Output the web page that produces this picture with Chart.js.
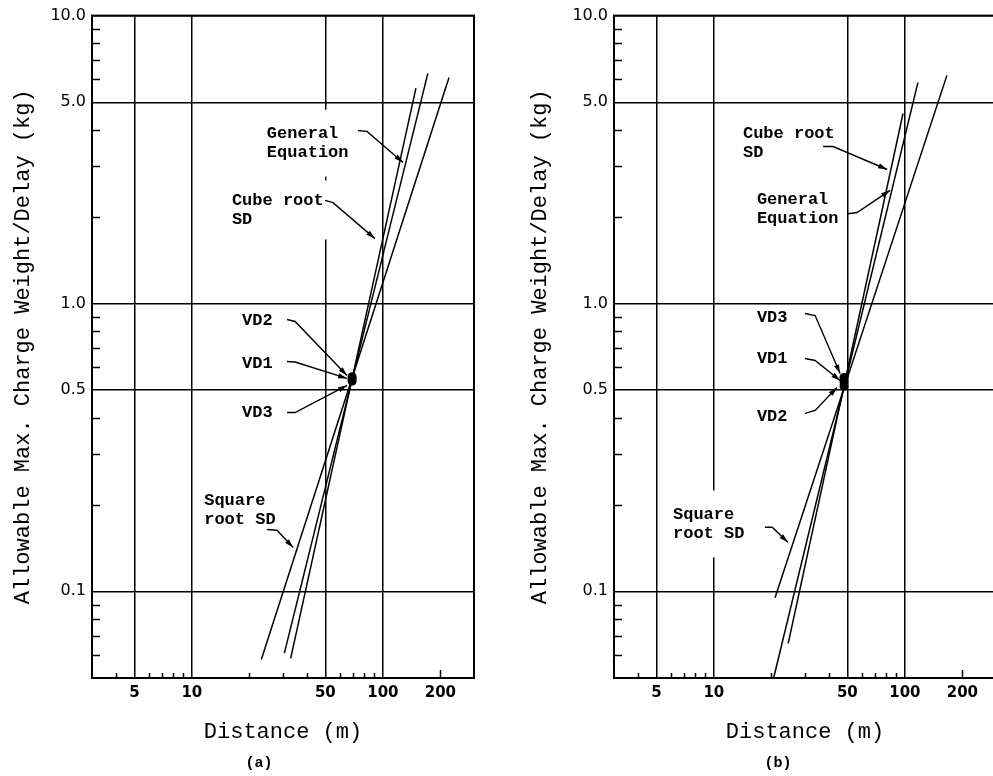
<!DOCTYPE html>
<html><head><meta charset="utf-8">
<script src="https://cdn.jsdelivr.net/npm/chart.js@4.4.1/dist/chart.umd.min.js"></script>
<style>
html,body{margin:0;padding:0;background:#fff;overflow:hidden;width:993px;height:776px;}
#wa{position:absolute;left:0;top:0;width:497px;height:776px;}
#wb{position:absolute;left:522px;top:0;width:497px;height:776px;}
</style></head><body>
<div id="wa"><canvas id="ca" width="497" height="776"></canvas></div>
<div id="wb"><canvas id="cb" width="497" height="776"></canvas></div>
<script>
// ---- axis ticks ----
const xTickValues = [5, 10, 50, 100, 200];
const xTickLabels = ['5', '10', '50', '100', '200'];
const yTickValues = [0.1, 0.5, 1, 5, 10];
const yTickLabels = ['0.1', '0.5', '1.0', '5.0', '10.0'];
const xMinorTicks = [4, 6, 7, 8, 9, 20, 30, 40, 60, 70, 80, 90];
const yMinorTicks = [0.06, 0.07, 0.08, 0.09, 0.2, 0.3, 0.4, 0.6, 0.7, 0.8, 0.9, 2, 3, 4, 6, 7, 8, 9];

// ---- panel (a) data: distance (m) / charge weight (kg) ----
const sqrtA_dist = [23.1, 222];
const sqrtA_w    = [0.058, 6.1];
const cubeA_dist = [32.9, 149];
const cubeA_w    = [0.0585, 5.6];
const genA_dist  = [30.5, 172];
const genA_w     = [0.061, 6.3];
const vdNames    = ['VD1', 'VD2', 'VD3'];
const vdA_dist   = [69, 69, 69];
const vdA_w      = [0.547, 0.557, 0.538];

// ---- panel (b) data ----
const sqrtB_dist = [20.9, 166];
const sqrtB_w    = [0.095, 6.2];
const cubeB_dist = [24.5, 97.8];
const cubeB_w    = [0.066, 4.57];
const genB_dist  = [20.6, 117];
const genB_w     = [0.0503, 5.85];
const vdB_dist   = [48, 48, 48];
const vdB_w      = [0.534, 0.517, 0.553];

const MONO = '"Liberation Mono", "DejaVu Sans Mono", monospace';
const SANS = '"DejaVu Sans", sans-serif';

function pts(xs, ys) { return xs.map((v, i) => ({x: v, y: ys[i]})); }

// annotation layouts (data coordinates)
const annotA = [
  {text: ['General', 'Equation'], at: [24.7, 3.89], pad: [6, 16], path: [[74.1, 3.99], [82.6, 3.96], [127.5, 3.09]]},
  {text: ['Cube root', 'SD'], at: [16.2, 2.28], pad: [6, 12], path: [[49.8, 2.28], [54.8, 2.24], [90.9, 1.68]]},
  {text: ['VD2'], at: [18.3, 0.873], pad: [4, 4], path: [[31.5, 0.880], [34.7, 0.866], [64.9, 0.562]]},
  {text: ['VD1'], at: [18.3, 0.619], pad: [4, 4], path: [[31.5, 0.629], [34.7, 0.626], [64.9, 0.549]]},
  {text: ['VD3'], at: [18.3, 0.418], pad: [4, 4], path: [[31.5, 0.418], [34.7, 0.418], [64.9, 0.519]]},
  {text: ['Square', 'root SD'], at: [11.6, 0.207], pad: [6, 10], path: [[24.7, 0.164], [27.9, 0.163], [33.9, 0.142]]}
];
const annotB = [
  {text: ['Cube root', 'SD'], at: [14.2, 3.89], pad: [6, 8], path: [[37.3, 3.51], [42.1, 3.51], [80.8, 2.92]]},
  {text: ['General', 'Equation'], at: [16.8, 2.30], pad: [6, 8], path: [[50.4, 2.05], [56.2, 2.07], [83.6, 2.47]]},
  {text: ['VD3'], at: [16.8, 0.894], pad: [4, 4], path: [[30, 0.923], [33.9, 0.908], [45.8, 0.571]]},
  {text: ['VD1'], at: [16.8, 0.644], pad: [4, 4], path: [[30, 0.644], [33.9, 0.634], [45.8, 0.540]]},
  {text: ['VD2'], at: [16.8, 0.405], pad: [4, 4], path: [[30, 0.415], [33.9, 0.425], [44.1, 0.511]]},
  {text: ['Square', 'root SD'], at: [6.11, 0.185], pad: [6, 16], path: [[18.5, 0.167], [20.2, 0.167], [24.4, 0.148]]}
];

function makePlugin(items, caption, capX) {
  return {
    id: 'decor',
    beforeDatasetsDraw(chart) {
      const {ctx, scales: {x, y}} = chart;
      ctx.save();
      ctx.font = 'bold 17px ' + MONO;
      ctx.fillStyle = '#fff';
      for (const a of items) {
        const px = x.getPixelForValue(a.at[0]), py = y.getPixelForValue(a.at[1]);
        const w = Math.max(...a.text.map(t => ctx.measureText(t).width));
        const h = (a.text.length - 1) * 19 + 16;
        ctx.fillRect(px - a.pad[0], py - 8 - a.pad[1], w + 2 * a.pad[0], h + 2 * a.pad[1]);
      }
      ctx.restore();
    },
    afterDatasetsDraw(chart) {
      const {ctx, chartArea: ca, scales: {x, y}} = chart;
      ctx.save();
      ctx.strokeStyle = '#000';
      ctx.fillStyle = '#000';
      // minor ticks
      ctx.lineWidth = 1.5;
      ctx.beginPath();
      for (const v of yMinorTicks) {
        const py = Math.round(y.getPixelForValue(v)) + 0.5;
        ctx.moveTo(ca.left, py); ctx.lineTo(ca.left + 8, py);
      }
      for (const v of xMinorTicks) {
        const px = Math.round(x.getPixelForValue(v)) + 0.5;
        ctx.moveTo(px, ca.bottom); ctx.lineTo(px, ca.bottom - 5);
      }
      const p200 = Math.round(x.getPixelForValue(200)) + 0.5;
      ctx.moveTo(p200, ca.bottom); ctx.lineTo(p200, ca.bottom - 8);
      ctx.stroke();
      // frame
      ctx.lineWidth = 2;
      ctx.strokeRect(ca.left, ca.top, ca.right - ca.left, ca.bottom - ca.top);
      // annotations
      ctx.font = 'bold 17px ' + MONO;
      ctx.textBaseline = 'middle';
      ctx.textAlign = 'left';
      ctx.lineWidth = 1.4;
      for (const a of items) {
        const px = x.getPixelForValue(a.at[0]), py = y.getPixelForValue(a.at[1]);
        a.text.forEach((t, i) => ctx.fillText(t, px, py + i * 19));
        const P = a.path.map(p => [x.getPixelForValue(p[0]), y.getPixelForValue(p[1])]);
        ctx.beginPath();
        ctx.moveTo(P[0][0], P[0][1]);
        for (let i = 1; i < P.length; i++) ctx.lineTo(P[i][0], P[i][1]);
        ctx.stroke();
        const [x1, y1] = P[P.length - 2], [x2, y2] = P[P.length - 1];
        const ang = Math.atan2(y2 - y1, x2 - x1);
        const L = 9, W = 2.6;
        ctx.beginPath();
        ctx.moveTo(x2, y2);
        ctx.lineTo(x2 - L * Math.cos(ang) + W * Math.sin(ang), y2 - L * Math.sin(ang) - W * Math.cos(ang));
        ctx.lineTo(x2 - L * Math.cos(ang) - W * Math.sin(ang), y2 - L * Math.sin(ang) + W * Math.cos(ang));
        ctx.closePath();
        ctx.fill();
      }
      // caption
      ctx.font = 'bold 15px ' + MONO;
      ctx.textAlign = 'center';
      ctx.fillText(caption, capX, 763);
      ctx.restore();
    }
  };
}

function makeChart(id, d, items, caption, capX, yTitlePad) {
  const lineDs = (data) => ({type: 'scatter', data, showLine: true, borderColor: '#000', borderWidth: 1.5,
    pointRadius: 0, pointHoverRadius: 0, fill: false, tension: 0});
  return new Chart(document.getElementById(id), {
    type: 'scatter',
    data: {
      datasets: [
        Object.assign(lineDs(pts(d.sqrtX, d.sqrtY)), {label: 'Square root SD'}),
        Object.assign(lineDs(pts(d.cubeX, d.cubeY)), {label: 'Cube root SD'}),
        Object.assign(lineDs(pts(d.genX, d.genY)), {label: 'General Equation'}),
        {label: 'VD', data: pts(d.vdX, d.vdY), pointRadius: 4.5, pointBackgroundColor: '#000',
         pointBorderColor: '#000', pointBorderWidth: 0, showLine: false}
      ]
    },
    plugins: [makePlugin(items, caption, capX)],
    options: {
      responsive: false,
      animation: false,
      events: [],
      layout: {padding: {top: 15, right: 23, left: 0, bottom: 0}},
      plugins: {legend: {display: false}, tooltip: {enabled: false}},
      scales: {
        x: {
          type: 'logarithmic', min: 3, max: 300,
          afterBuildTicks: s => { s.ticks = xTickValues.map(v => ({value: v})); },
          afterFit: s => { s.height = 98; },
          ticks: {autoSkip: false, maxRotation: 0, padding: 6, color: '#000',
                  font: {family: SANS, size: 15, weight: 'bold'},
                  callback: (v) => xTickLabels[xTickValues.indexOf(v)] ?? ''},
          grid: {drawTicks: false, lineWidth: 1.5,
                 color: c => (c.tick && c.tick.value === 200) ? 'rgba(0,0,0,0)' : '#000'},
          border: {display: true, color: '#000', width: 2},
          title: {display: true, text: 'Distance (m)', color: '#000',
                  font: {family: MONO, size: 22}, padding: {top: 0, bottom: 31}}
        },
        y: {
          type: 'logarithmic', min: 0.05, max: 10,
          afterBuildTicks: s => { s.ticks = yTickValues.map(v => ({value: v})); },
          afterFit: s => { s.width = 92; },
          ticks: {autoSkip: false, padding: 6, color: '#000',
                  font: {family: SANS, size: 16},
                  callback: (v) => yTickLabels[yTickValues.indexOf(v)] ?? ''},
          grid: {drawTicks: false, lineWidth: 1.5, color: '#000'},
          border: {display: true, color: '#000', width: 2},
          title: {display: true, text: 'Allowable Max. Charge Weight/Delay (kg)', color: '#000',
                  font: {family: MONO, size: 22}, padding: {top: yTitlePad, bottom: 0}}
        }
      }
    }
  });
}

makeChart('ca', {sqrtX: sqrtA_dist, sqrtY: sqrtA_w, cubeX: cubeA_dist, cubeY: cubeA_w,
                 genX: genA_dist, genY: genA_w, vdX: vdA_dist, vdY: vdA_w}, annotA, '(a)', 259, 10);
makeChart('cb', {sqrtX: sqrtB_dist, sqrtY: sqrtB_w, cubeX: cubeB_dist, cubeY: cubeB_w,
                 genX: genB_dist, genY: genB_w, vdX: vdB_dist, vdY: vdB_w}, annotB, '(b)', 256, 5);
</script></body></html>
